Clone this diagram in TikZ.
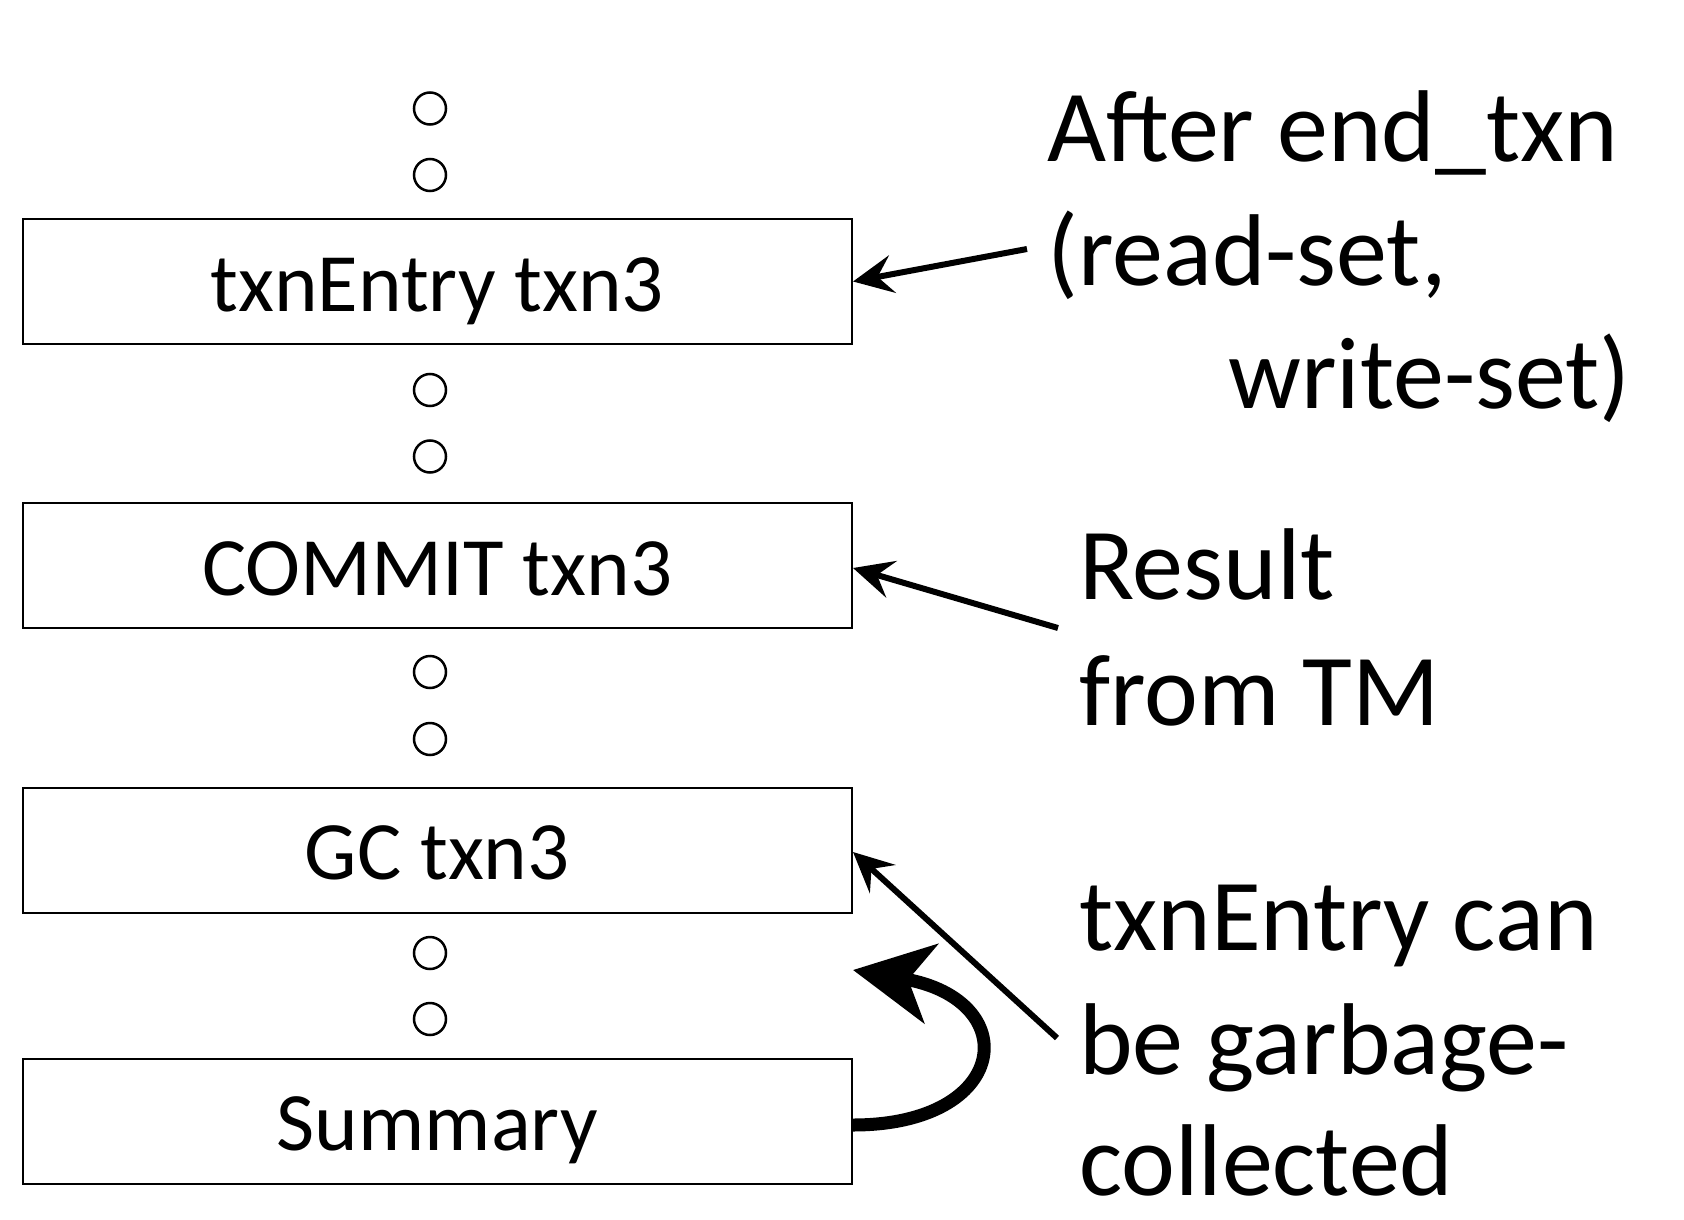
\documentclass[tikz,border=0pt]{standalone}
\usepackage{fontspec}
\setmainfont{Carlito}
\usetikzlibrary{arrows.meta}
\begin{document}
\begin{tikzpicture}[x=1pt,y=-1pt,
  logbox/.style={draw,line width=2pt,minimum width=829.5pt,minimum height=125pt,
    inner sep=0pt,text height=59pt,text depth=0pt,font=\fontsize{83}{100}\selectfont},
  gap/.style={draw,line width=2.5pt,circle,minimum size=32pt,inner sep=0pt},
  note/.style={anchor=base west,inner sep=0pt,font=\fontsize{102}{124}\selectfont},
  pointer/.style={line width=6pt,-{Stealth[length=40pt,width=38pt,inset=15pt]}},
  loopback/.style={line width=13pt,-{Stealth[length=79pt,width=80pt,inset=23pt]}}]
\useasboundingbox (0,0) rectangle (1684,1220);

% log records
\node[logbox] (b1) at (437.25,281.5) {txnEntry txn3};
\node[logbox] (b2) at (437.25,565.5) {COMMIT txn3};
\node[logbox] (b3) at (437.25,850)   {GC txn3};
\node[logbox] (b4) at (437.25,1121)  {Summary};

% elided records
\foreach \n/\y in {d1/108.5,d2/175,d3/390,d4/456.5,d5/672,d6/739,d7/953,d8/1019}
  \node[gap] (\n) at (430,\y) {};

% annotations
\node[note] (a1) at (1047,161) {After end\_txn};
\node[note] (a2) at (1047,285) {(read-set,};
\node[note] (a3) at (1228,408) {write-set)};
\node[note] (r1) at (1079,599) {Result};
\node[note] (r2) at (1079,725) {from TM};
\node[note] (g1) at (1079,950) {txnEntry can};
\node[note] (g2) at (1079,1074) {be garbage-};
\node[note] (g3) at (1079,1195) {collected};

% arrow tails and loop tip
\coordinate (p1) at (1027,249);
\coordinate (p2) at (1058,628);
\coordinate (p3) at (1057,1038);
\coordinate (q)  at (853,970);

\draw[pointer] (p1) -- (b1.east);
\draw[pointer] (p2) -- ([yshift=-2.5pt]b2.east);
\draw[pointer] (p3) -- ([yshift=-2pt]b3.east);
\draw[loopback] ([yshift=-4pt]b4.east) .. controls (1010,1125) and (1025,1000) .. (q);
\end{tikzpicture}
\end{document}
